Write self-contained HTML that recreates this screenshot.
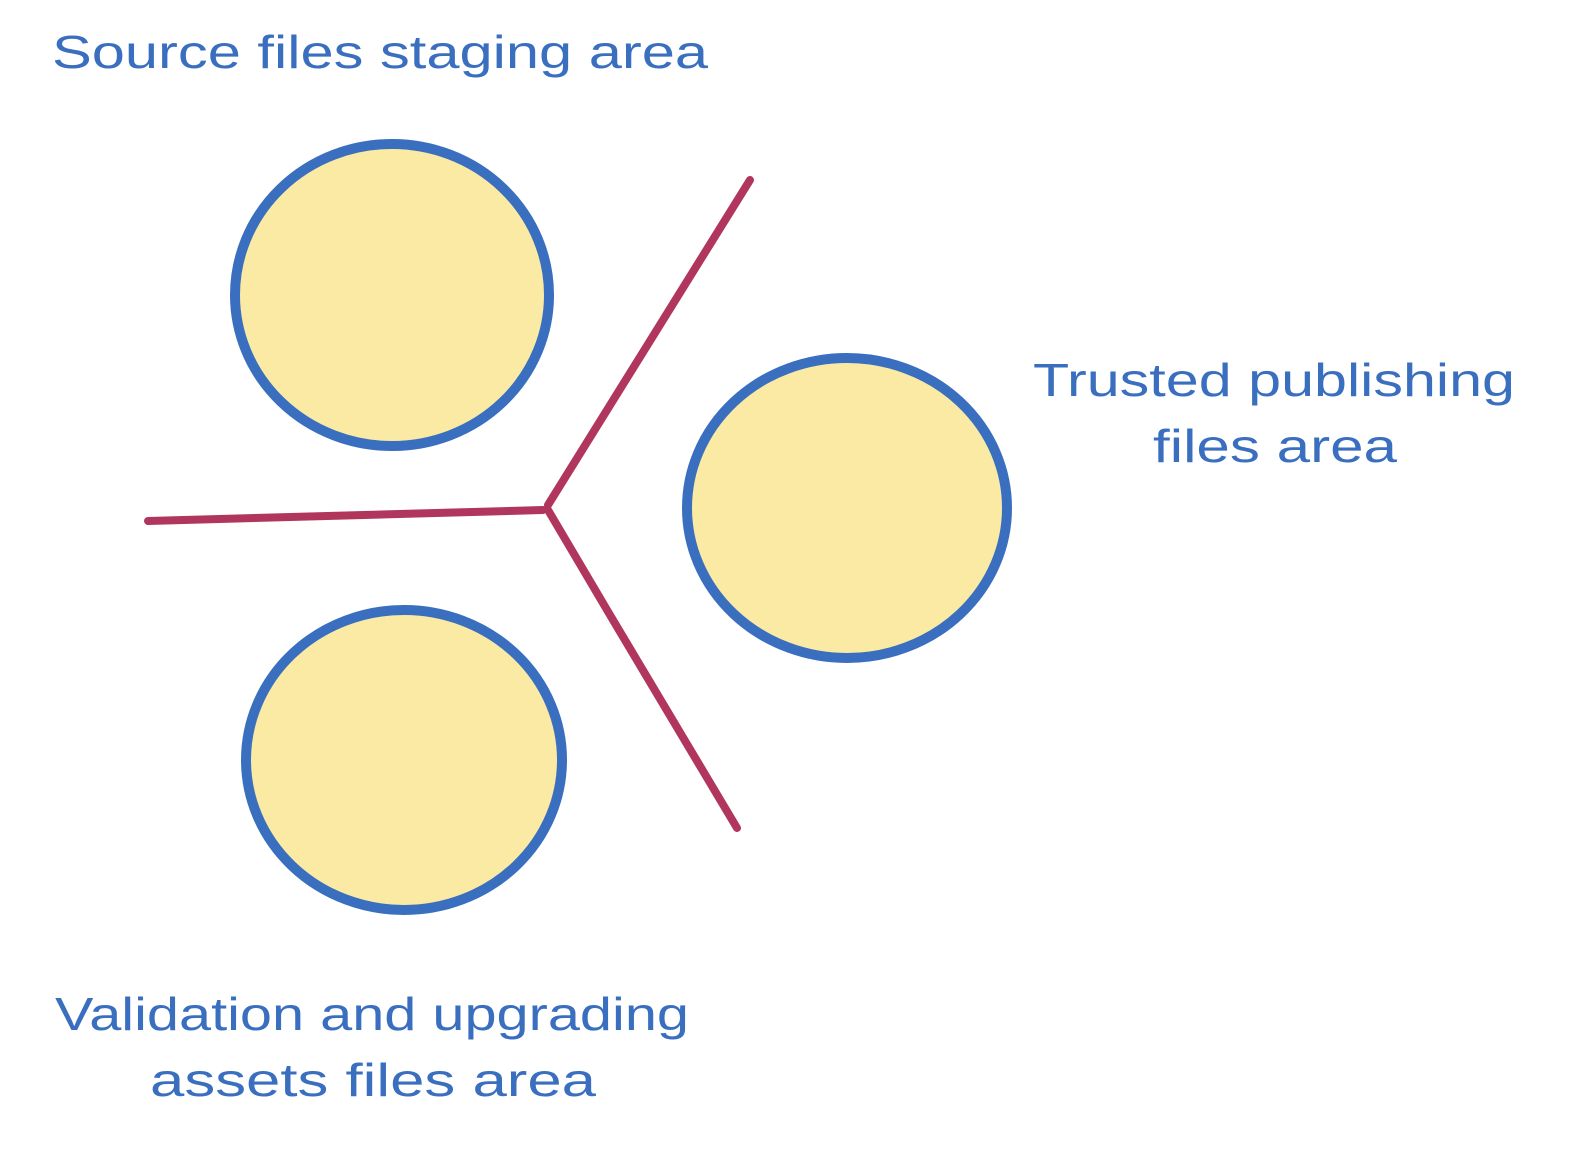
<!DOCTYPE html>
<html><head><meta charset="utf-8"><style>
html,body{margin:0;padding:0;background:#fff;}
svg{display:block}
text{font-family:"Liberation Sans",sans-serif;fill:#3a6fbf;font-size:46px;}
</style></head><body>
<svg width="1582" height="1154" viewBox="0 0 1582 1154" xmlns="http://www.w3.org/2000/svg">
<g fill="#fbeaa4" stroke="#3a6fbf" stroke-width="10">
<ellipse cx="392" cy="295" rx="157" ry="151"/>
<ellipse cx="847" cy="508" rx="160" ry="150"/>
<ellipse cx="404" cy="760" rx="158" ry="150"/>
</g>
<g fill="none" stroke="#b0365e" stroke-width="8" stroke-linecap="round" stroke-linejoin="round">
<path d="M148 521 L543 510"/>
<path d="M548 505 L750 180"/>
<path d="M548 510 L610 615 L737 828"/>
</g>
<text x="52" y="68" textLength="656" lengthAdjust="spacingAndGlyphs">Source files staging area</text>
<text x="1033" y="396" textLength="482" lengthAdjust="spacingAndGlyphs">Trusted publishing</text>
<text x="1153" y="462" textLength="244" lengthAdjust="spacingAndGlyphs">files area</text>
<text x="55" y="1030" textLength="634" lengthAdjust="spacingAndGlyphs">Validation and upgrading</text>
<text x="150" y="1096" textLength="446" lengthAdjust="spacingAndGlyphs">assets files area</text>
</svg>
</body></html>
